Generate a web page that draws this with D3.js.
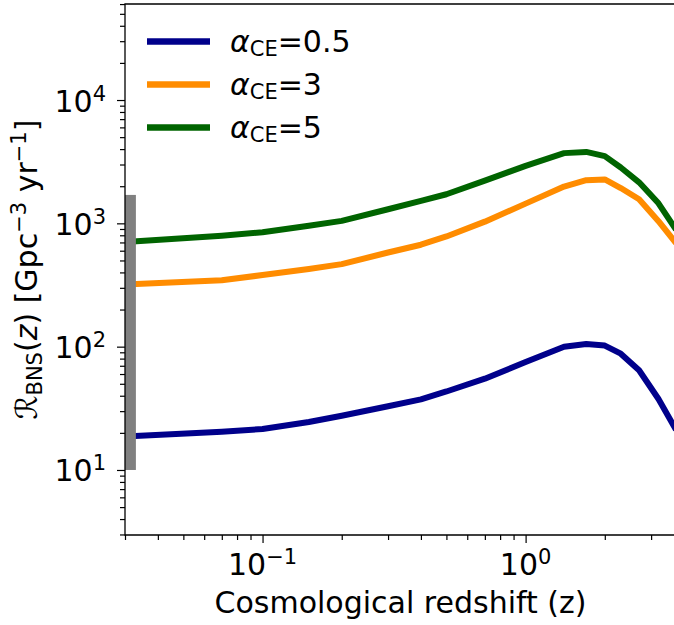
<!DOCTYPE html>
<html lang="en">
<head>
  <meta charset="UTF-8">
  <title>BNS merger rate</title>
  <script src="https://d3js.org/d3.v7.min.js" charset="utf-8"></script>
  <style>
    body { margin: 0; background: #fff; }
    text { font-family: "DejaVu Sans", sans-serif; fill: #000; }
  </style>
</head>
<body>
</body>
<script>
  // redshift grid and rates (Gpc^-3 yr^-1)
  const redshift = [0.03, 0.07, 0.1, 0.15, 0.2, 0.3, 0.4, 0.5, 0.7, 1.0, 1.4, 1.7, 2.0, 2.3, 2.7, 3.2, 3.73]
  const rateAlpha05 = [18.7, 20.4, 21.5, 24.5, 27.5, 32.9, 37.4, 43.3, 55.0, 75.0, 100, 105, 102, 87.7, 64.4, 37.6, 21.2]
  const rateAlpha3 = [319, 346, 381, 427, 467, 580, 671, 783, 1032, 1445, 1988, 2238, 2270, 1933, 1568, 1042, 690]
  const rateAlpha5 = [705, 794, 847, 955, 1047, 1301, 1522, 1722, 2218, 2926, 3710, 3795, 3508, 2836, 2152, 1453, 890]
  const seriesNames = ['0.5', '3', '5']
  const seriesColors = ['#00008b', '#ff8c00', '#006400']

  // local rate band (GWTC-3, 10 - 1700)
  const bandZ = [0.03, 0.033]
  const bandRate = [10, 1700]

  const xMajor = [0.1, 1]
  const xMajorExp = ['\u22121', '0']
  const yMajor = [10, 100, 1000, 10000]
  const yMajorExp = ['1', '2', '3', '4']

  const plotL = 125, plotR = 676, plotT = 4, plotB = 535
  const fs = 30

  var x = d3.scaleLog().domain([0.03, 3.73]).range([plotL, plotR])
  var y = d3.scaleLog().domain([2.97, 60070]).range([plotB, plotT])

  var svg = d3.select('body').append('svg').attr('width', 674).attr('height', 625)

  svg.append('clipPath').attr('id', 'plot-clip')
    .append('rect').attr('x', plotL).attr('y', plotT).attr('width', plotR - plotL).attr('height', plotB - plotT)

  // minor ticks
  function minors(lo, hi) {
    let out = []
    for (let e = Math.floor(Math.log10(lo)); e <= Math.ceil(Math.log10(hi)); e++) {
      for (let m = 2; m <= 9; m++) {
        let v = m * Math.pow(10, e)
        if (v >= lo && v <= hi) out.push(v)
      }
    }
    return out
  }

  var gx = svg.append('g').attr('transform', 'translate(0,' + plotB + ')')
  gx.append('g').call(d3.axisBottom(x).tickValues(xMajor).tickSize(8).tickFormat(''))
  gx.append('g').call(d3.axisBottom(x).tickValues(minors(0.03, 3.73)).tickSize(5).tickFormat(''))
  var gy = svg.append('g').attr('transform', 'translate(' + plotL + ',0)')
  gy.append('g').call(d3.axisLeft(y).tickValues(yMajor).tickSize(8).tickFormat(''))
  gy.append('g').call(d3.axisLeft(y).tickValues(minors(2.97, 60070)).tickSize(5).tickFormat(''))
  svg.selectAll('.domain').remove()
  svg.selectAll('.tick line').attr('stroke', '#000').attr('stroke-width', 1.2)

  // tick labels with exponents
  var xl = svg.selectAll('.xlab').data(xMajor).enter().append('text')
    .attr('class', 'xlab')
    .attr('x', d => x(d)).attr('y', 575)
    .attr('text-anchor', 'middle').style('font-size', fs + 'px')
  xl.append('tspan').text('10')
  xl.append('tspan').text((d, i) => xMajorExp[i]).attr('dy', -11).style('font-size', (fs * 0.7) + 'px')

  var yl = svg.selectAll('.ylab').data(yMajor).enter().append('text')
    .attr('class', 'ylab')
    .attr('x', 106).attr('y', d => y(d) + 11.5)
    .attr('text-anchor', 'end').style('font-size', fs + 'px')
  yl.append('tspan').text('10')
  yl.append('tspan').text((d, i) => yMajorExp[i]).attr('dy', -11).style('font-size', (fs * 0.7) + 'px')

  // curves
  var lineGenerator = d3.line()
    .x(d => x(d[0]))
    .y(d => y(d[1]))
  var allRates = [rateAlpha05, rateAlpha3, rateAlpha5]
  var plot = svg.append('g').attr('clip-path', 'url(#plot-clip)')
  plot.selectAll('path.curve').data(allRates).enter().append('path')
    .attr('class', 'curve')
    .attr('d', r => lineGenerator(redshift.map((z, i) => [z, r[i]])))
    .attr('fill', 'none')
    .attr('stroke', (d, i) => seriesColors[i])
    .attr('stroke-width', 6)
    .attr('stroke-linejoin', 'round')

  // observed local rate band
  plot.append('rect')
    .attr('x', x(bandZ[0])).attr('width', x(bandZ[1]) - x(bandZ[0]))
    .attr('y', y(bandRate[1])).attr('height', y(bandRate[0]) - y(bandRate[1]))
    .attr('fill', '#808080')

  // spines
  svg.append('path')
    .attr('d', 'M' + plotL + ',' + plotT + 'V' + plotB + 'H' + plotR + 'V' + plotT + 'Z')
    .attr('fill', 'none').attr('stroke', '#000').attr('stroke-width', 1.3)

  // legend
  var leg = svg.selectAll('.leg').data(seriesNames).enter().append('g')
    .attr('class', 'leg')
    .attr('transform', (d, i) => 'translate(0,' + (41.5 + i * 43) + ')')
  leg.append('line').attr('x1', 147).attr('x2', 210).attr('y1', 0).attr('y2', 0)
    .attr('stroke', (d, i) => seriesColors[i]).attr('stroke-width', 6.5)
  var lt = leg.append('text').attr('x', 230).attr('y', 10.5).style('font-size', fs + 'px')
  lt.append('tspan').text('\u03b1').style('font-style', 'italic')
  lt.append('tspan').text('CE').attr('dy', 4).style('font-size', (fs * 0.7) + 'px')
  lt.append('tspan').text(d => '=' + d).attr('dy', -4)

  // axis labels
  svg.append('text').attr('x', (plotL + plotR) / 2).attr('y', 613)
    .attr('text-anchor', 'middle').style('font-size', fs + 'px')
    .text('Cosmological redshift (z)')

  var ylab = svg.append('text')
    .attr('transform', 'translate(37,' + ((plotT + plotB) / 2) + ') rotate(-90)')
    .attr('text-anchor', 'middle').style('font-size', fs + 'px')
  ylab.append('tspan').text('\u211b')
  ylab.append('tspan').text('BNS').attr('dy', 5).style('font-size', (fs * 0.7) + 'px')
  ylab.append('tspan').text('(').attr('dy', -5)
  ylab.append('tspan').text('z').style('font-style', 'italic')
  ylab.append('tspan').text(') [Gpc')
  ylab.append('tspan').text('\u22123').attr('dy', -11).style('font-size', (fs * 0.7) + 'px')
  ylab.append('tspan').text(' yr').attr('dy', 11)
  ylab.append('tspan').text('\u22121').attr('dy', -11).style('font-size', (fs * 0.7) + 'px')
  ylab.append('tspan').text(']').attr('dy', 11)
</script>
</html>
